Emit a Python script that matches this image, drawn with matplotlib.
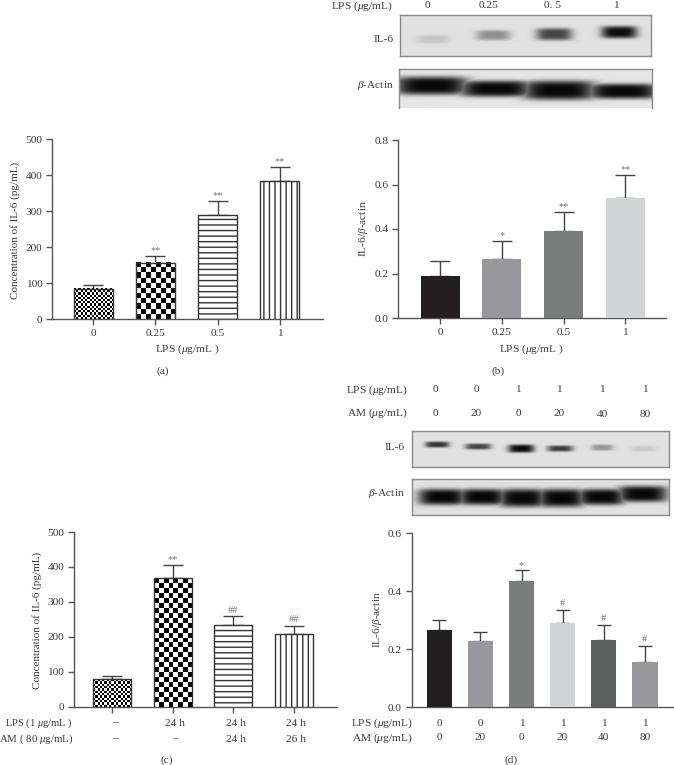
import numpy as np
import matplotlib
matplotlib.use('Agg')
import matplotlib.pyplot as plt

plt.rcParams['font.family'] = ['Liberation Serif', 'DejaVu Serif']
plt.rcParams['mathtext.fontset'] = 'custom'
plt.rcParams['mathtext.rm'] = 'Liberation Serif'
plt.rcParams['mathtext.it'] = 'Liberation Serif:italic'
plt.rcParams['hatch.linewidth'] = 1.0
plt.rcParams['hatch.color'] = '#333333'

W, H = 674, 765
TXT = '#3a3a3a'
AXC = '#555555'
FS = 8.2

# -------------------------
# data
# -------------------------
a_labels = ['0', '0.25', '0.5', '1']
a_vals = [84, 156, 291, 385]
a_tops = [95, 177, 329, 424]
a_marks = ['', '**', '**', '**']

b_labels = ['0', '0.25', '0.5', '1']
b_vals = [0.19, 0.265, 0.39, 0.54]
b_tops = [0.255, 0.345, 0.477, 0.643]
b_marks = ['', '*', '**', '**']
b_colors = ['#231f20', '#98989c', '#7b7d7c', '#d2d3d4']

c_lps = ['–', '24 h', '24 h', '24 h']
c_am = ['–', '–', '24 h', '26 h']
c_vals = [78, 368, 233, 209]
c_tops = [89, 405, 259, 232]
c_marks = ['', '**', '##', '##']

d_lps = ['0', '0', '1', '1', '1', '1']
d_am = ['0', '20', '0', '20', '40', '80']
d_vals = [0.265, 0.23, 0.435, 0.292, 0.233, 0.155]
d_tops = [0.302, 0.258, 0.472, 0.336, 0.285, 0.213]
d_marks = ['', '', '*', '#', '#', '#']
d_colors = ['#231f20', '#98989c', '#7b7d7c', '#d2d3d4', '#5c5e5e', '#98989c']

fills_ac = ['fine', 'coarse', 'hline', 'vline']

# blot bands: centre x, centre y, half width, half height, darkness (figure pixels)
blot_b_il6 = [(433, 39, 16, 4, 0.13), (493, 35, 17, 5, 0.38), (554, 34, 18, 6, 0.72), (619, 32, 18, 6, 0.97)]
blot_b_act = [(431, 85.5, 37, 9, 1.0), (495, 88.5, 37, 8, 1.0), (558, 90, 37, 9.5, 1.0), (622, 91, 36, 7.5, 1.0)]
blot_d_il6 = [(437, 445, 12, 3, 0.80), (478, 447, 13, 3, 0.72), (521, 449, 13, 4, 0.98), (560, 449, 13, 3, 0.75),
              (602, 448, 11, 3, 0.35), (643, 449, 13, 3, 0.10)]
blot_d_act = [(442, 497, 24, 8, 1.0), (482, 497, 24, 8, 1.0), (522, 498, 24, 9, 1.0), (561, 498, 24, 9, 1.0),
              (601, 497, 24, 8, 1.0), (642, 494, 25, 8, 1.0)]

fig = plt.figure(figsize=(W / 100, H / 100), dpi=100)
fig.patch.set_facecolor('white')


def px_text(x, y, s, ha='center', **kw):
    kw.setdefault('fontsize', FS)
    kw.setdefault('color', TXT)
    fig.text(x / W, 1 - y / H, s, ha=ha, va='center', **kw)


def make_axes(left, right, top, bottom):
    ax = fig.add_axes([left / W, 1 - bottom / H, (right - left) / W, (bottom - top) / H])
    ax.spines['top'].set_visible(False)
    ax.spines['right'].set_visible(False)
    for s in ['left', 'bottom']:
        ax.spines[s].set_color(AXC)
        ax.spines[s].set_linewidth(1.0)
    ax.tick_params(colors=AXC, labelcolor=TXT, labelsize=FS, length=4, width=1, pad=3)
    ax.patch.set_alpha(0)
    return ax


def checker(ax, x0, x1, y0, y1, cell):
    # square cells in pixels, whatever the height of the bar
    xlim, ylim = ax.get_xlim(), ax.get_ylim()
    px_w = (x1 - x0) / (xlim[1] - xlim[0]) * ax.bbox.width
    px_h = (y1 - y0) / (ylim[1] - ylim[0]) * ax.bbox.height
    nx, ny = max(int(round(px_w / cell)), 1), max(int(round(px_h / cell)), 1)
    ii, jj = np.indices((ny, nx))
    img = ((ii + jj) % 2).astype(float)
    ax.imshow(img, extent=[x0, x1, y0, y1], aspect='auto', cmap='gray', vmin=0, vmax=1,
              interpolation='nearest', zorder=2.8)


def draw_bars(ax, vals, tops, marks, fills=None, colors=None, width=0.63, cap=7.5):
    xlim, ylim = ax.get_xlim(), ax.get_ylim()
    xs = np.arange(len(vals))
    for i, v in enumerate(vals):
        x0, x1 = i - width / 2, i + width / 2
        if colors is not None:
            ax.bar(i, v, width, color=colors[i], zorder=3)
        else:
            kind = fills[i]
            if kind == 'fine':
                checker(ax, x0, x1, 0, v, 2.2)
            elif kind == 'coarse':
                checker(ax, x0, x1, 0, v, 4.9)
            else:
                ax.bar(i, v, width, color='white', zorder=2.8)
            hatch = {'hline': '---', 'vline': '|||'}.get(kind)
            ax.bar(i, v, width, facecolor='none', edgecolor='#333333', linewidth=1.0, hatch=hatch, zorder=3)
    ax.errorbar(xs, vals, yerr=[np.zeros(len(vals)), np.array(tops) - np.array(vals)], fmt='none', ecolor='#444444',
                elinewidth=1, capsize=cap, capthick=1, zorder=2.5)
    for i, m in enumerate(marks):
        if m:
            off = 0.5 if '*' in m else 1
            ax.annotate(m, (i, tops[i]), xytext=(0, off), textcoords='offset points', ha='center', va='bottom',
                        fontsize=7.5, color='#777777')
    ax.set_xlim(xlim)
    ax.set_ylim(ylim)
    ax.set_xticks(xs)


def blot(left, right, top, bottom, bands, bg=0.87, fade_bottom=False):
    ax = fig.add_axes([left / W, 1 - bottom / H, (right - left) / W, (bottom - top) / H])
    yy, xx = np.mgrid[top:bottom:0.5, left:right:0.5]
    dark = np.zeros_like(xx)
    for cx, cy, hw, hh, d in bands:
        dark = np.maximum(dark, d * np.exp(-((xx - cx) / hw) ** 4 - ((yy - cy) / hh) ** 4))
    img = bg * (1 - dark) + 0.03 * dark
    ax.imshow(img, extent=[left, right, bottom, top], cmap='gray', vmin=0, vmax=1, aspect='auto',
              interpolation='bilinear')
    ax.set_xticks([])
    ax.set_yticks([])
    for name, s in ax.spines.items():
        s.set_color('#8a8a8a')
        s.set_linewidth(1.0)
    if fade_bottom:
        ax.spines['bottom'].set_visible(False)


# -------------------------
# panel (a)
# -------------------------
ax = make_axes(52.3, 322.7, 139.3, 319.3)
ax.set_xlim(-0.66, 3.69)
ax.set_ylim(0, 500)
draw_bars(ax, a_vals, a_tops, a_marks, fills=fills_ac)
ax.set_yticks(range(0, 501, 100))
ax.set_xticklabels(a_labels)
px_text(15, 230, 'Concentration of IL-6 (pg/mL)', rotation=90, fontsize=8)
px_text(187, 349, r'LPS ($\mu$g/mL )')
px_text(163, 371, '(a)')

# -------------------------
# panel (b)
# -------------------------
px_text(393, 6, r'LPS ($\mu$g/mL)', ha='right')
for x, s in zip([427, 489, 553, 616], ['0', '0.25', '0. 5', '1']):
    px_text(x, 6, s)
px_text(394, 39, 'IL-6', ha='right')
px_text(394, 85, r'$\beta$-Actin', ha='right')
blot(400, 651, 15.3, 55.7, blot_b_il6, bg=0.88)
blot(399, 652, 69.3, 107.7, blot_b_act, bg=0.90, fade_bottom=True)

ax = make_axes(398.3, 666, 140, 318)
ax.set_xlim(-0.68, 3.66)
ax.set_ylim(0, 0.8)
draw_bars(ax, b_vals, b_tops, b_marks, colors=b_colors)
ax.set_yticks([0, 0.2, 0.4, 0.6, 0.8])
ax.set_yticklabels(['0.0', '0.2', '0.4', '0.6', '0.8'])
ax.set_xticklabels(b_labels)
px_text(363, 229, r'IL-6/$\beta$-actin', rotation=90)
px_text(531, 349, r'LPS ($\mu$g/mL )')
px_text(498, 371, '(b)')

# -------------------------
# panel (c)
# -------------------------
ax = make_axes(74, 337, 532, 706.7)
ax.set_xlim(-0.635, 3.715)
ax.set_ylim(0, 500)
draw_bars(ax, c_vals, c_tops, c_marks, fills=fills_ac)
ax.set_yticks(range(0, 501, 100))
ax.set_xticklabels([])
px_text(37, 620, 'Concentration of IL-6 (pg/mL)', rotation=90, fontsize=8)
px_text(73, 723, r'LPS (1 $\mu$g/mL )', ha='right', fontsize=7.6)
px_text(73, 739, r'AM ( 80 $\mu$g/mL)', ha='right', fontsize=7.8)
for x, s1, s2 in zip([114.5, 175, 235.5, 296], c_lps, c_am):
    px_text(x, 723, s1)
    px_text(x, 739, s2)
px_text(167, 760, '(c)')

# -------------------------
# panel (d)
# -------------------------
px_text(408, 390, r'LPS ($\mu$g/mL)', ha='right')
px_text(408, 413, r'AM ($\mu$g/mL)', ha='right')
for x, y2, s1, s2 in zip([435, 476, 518, 559, 602, 645], [413, 414, 413, 414, 415, 415], d_lps, d_am):
    px_text(x, 390, s1)
    px_text(x, y2, s2)
px_text(405, 448, 'IL-6', ha='right')
px_text(405, 493, r'$\beta$-Actin', ha='right')
blot(412, 669, 430.7, 467.3, blot_d_il6, bg=0.88)
blot(412, 669, 479.3, 515.3, blot_d_act, bg=0.88)

ax = make_axes(411.7, 673.3, 533.3, 707.3)
ax.set_xlim((411.7 - 439.3) / 41.1, (673.3 - 439.3) / 41.1)
ax.set_ylim(0, 0.6)
draw_bars(ax, d_vals, d_tops, d_marks, colors=d_colors, width=0.62, cap=5)
ax.set_yticks([0, 0.2, 0.4, 0.6])
ax.set_yticklabels(['0.0', '0.2', '0.4', '0.6'])
ax.set_xticklabels([])
ax.tick_params(axis='x', length=0)
px_text(377, 620, r'IL-6/$\beta$-actin', rotation=90)
px_text(413, 723, r'LPS ($\mu$g/mL)', ha='right')
px_text(413, 738, r'AM ($\mu$g/mL)', ha='right')
for x, s1, s2 in zip([439.3, 480.5, 521.5, 562.5, 603.5, 645], d_lps, d_am):
    px_text(x, 723, s1)
    px_text(x, 738, s2)
px_text(511, 760, '(d)')

fig.savefig('out.png', dpi=100)
